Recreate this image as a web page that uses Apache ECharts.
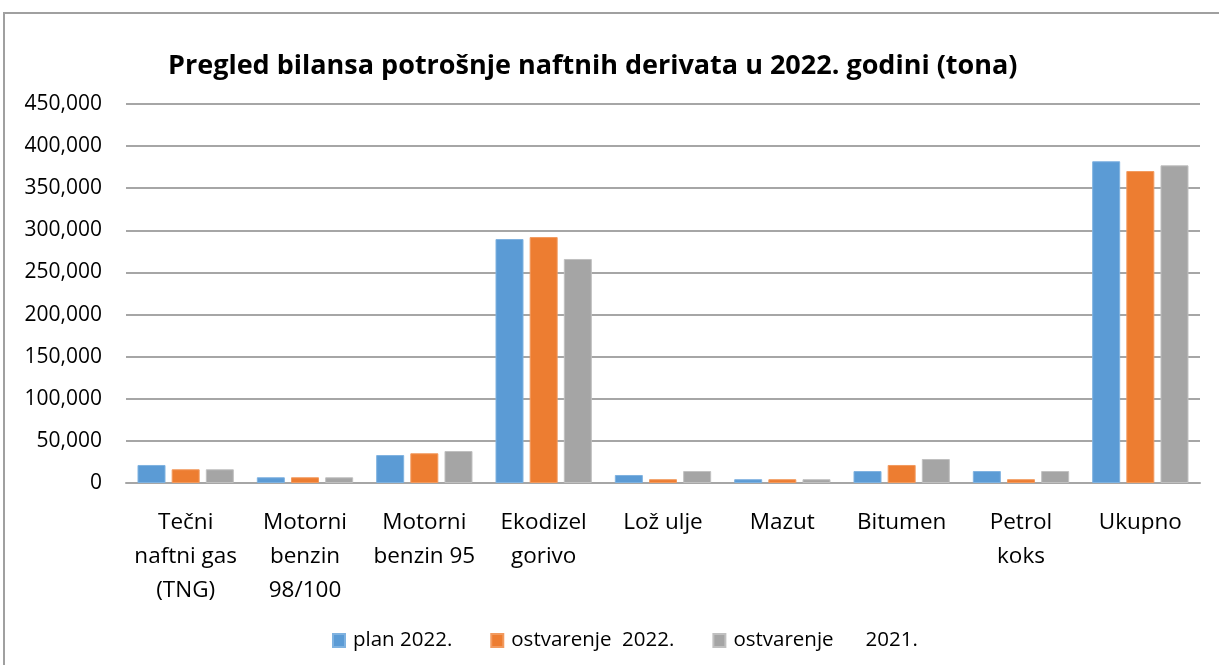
<!DOCTYPE html>
<html><head><meta charset="utf-8">
<script src="https://cdn.jsdelivr.net/npm/echarts@6/dist/echarts.min.js"></script>
<style>html,body{margin:0;padding:0;background:#fff}#c{width:1219px;height:665px}</style>
</head><body><div id="c"></div>
<script>
const categories = ["Tečni\nnaftni gas\n(TNG)", "Motorni\nbenzin\n98/100", "Motorni\nbenzin 95", "Ekodizel\ngorivo", "Lož ulje", "Mazut", "Bitumen", "Petrol\nkoks", "Ukupno"];
const seriesNames = ["plan 2022.", "ostvarenje  2022.", "ostvarenje      2021."];
const plan2022 = [21400, 6800, 33200, 289700, 9500, 4500, 14200, 14200, 382000];
const ostv2022 = [16300, 6800, 35300, 292000, 4500, 4500, 21400, 4500, 370400];
const ostv2021 = [16300, 6800, 38000, 266000, 14200, 4500, 28500, 14200, 377200];
const colors = ["#5B9BD5", "#ED7D31", "#A5A5A5"];
const borders = ["#7FB2E0", "#F29A5E", "#C0C0C0"];
const FONT = "'Open Sans', 'Noto Sans', sans-serif";
const chart = echarts.init(document.getElementById('c'));
const data = [plan2022, ostv2022, ostv2021];
chart.setOption({
  animation: false,
  backgroundColor: '#fff',
  graphic: [{type: 'rect', shape: {x: 4, y: 13, width: 1230, height: 670}, style: {fill: 'none', stroke: '#A0A0A0', lineWidth: 2}, z: -1}],
  title: {text: 'Pregled bilansa potrošnje naftnih derivata u 2022. godini (tona)', left: 163, top: 48,
    textStyle: {fontFamily: FONT, fontWeight: 'bold', fontSize: 27, color: '#000'}},
  grid: {left: 126, right: 19, top: 104, bottom: 182},
  legend: {bottom: 9, left: 327, icon: 'rect', itemWidth: 12, itemHeight: 13, itemGap: 38,
    textStyle: {fontFamily: FONT, fontSize: 20.5, color: '#000', padding: [0, 0, 0, 3]}, data: seriesNames},
  xAxis: {type: 'category', data: categories,
    axisLine: {lineStyle: {color: '#A6A6A6', width: 2}}, axisTick: {show: false},
    axisLabel: {fontFamily: FONT, fontSize: 22.5, color: '#000', lineHeight: 34, margin: 23, interval: 0}},
  yAxis: {type: 'value', min: 0, max: 450000, interval: 50000,
    axisLine: {show: false}, axisTick: {show: false},
    splitLine: {lineStyle: {color: '#A6A6A6', width: 2}},
    axisLabel: {fontFamily: FONT, fontSize: 21, color: '#000', margin: 24,
      formatter: v => v.toLocaleString('en-US')}},
  series: seriesNames.map((n, i) => ({name: n, type: 'bar', data: data[i], barWidth: 28, barGap: '22%',
    itemStyle: {color: colors[i], borderColor: borders[i], borderWidth: 1}}))
});
</script></body></html>
